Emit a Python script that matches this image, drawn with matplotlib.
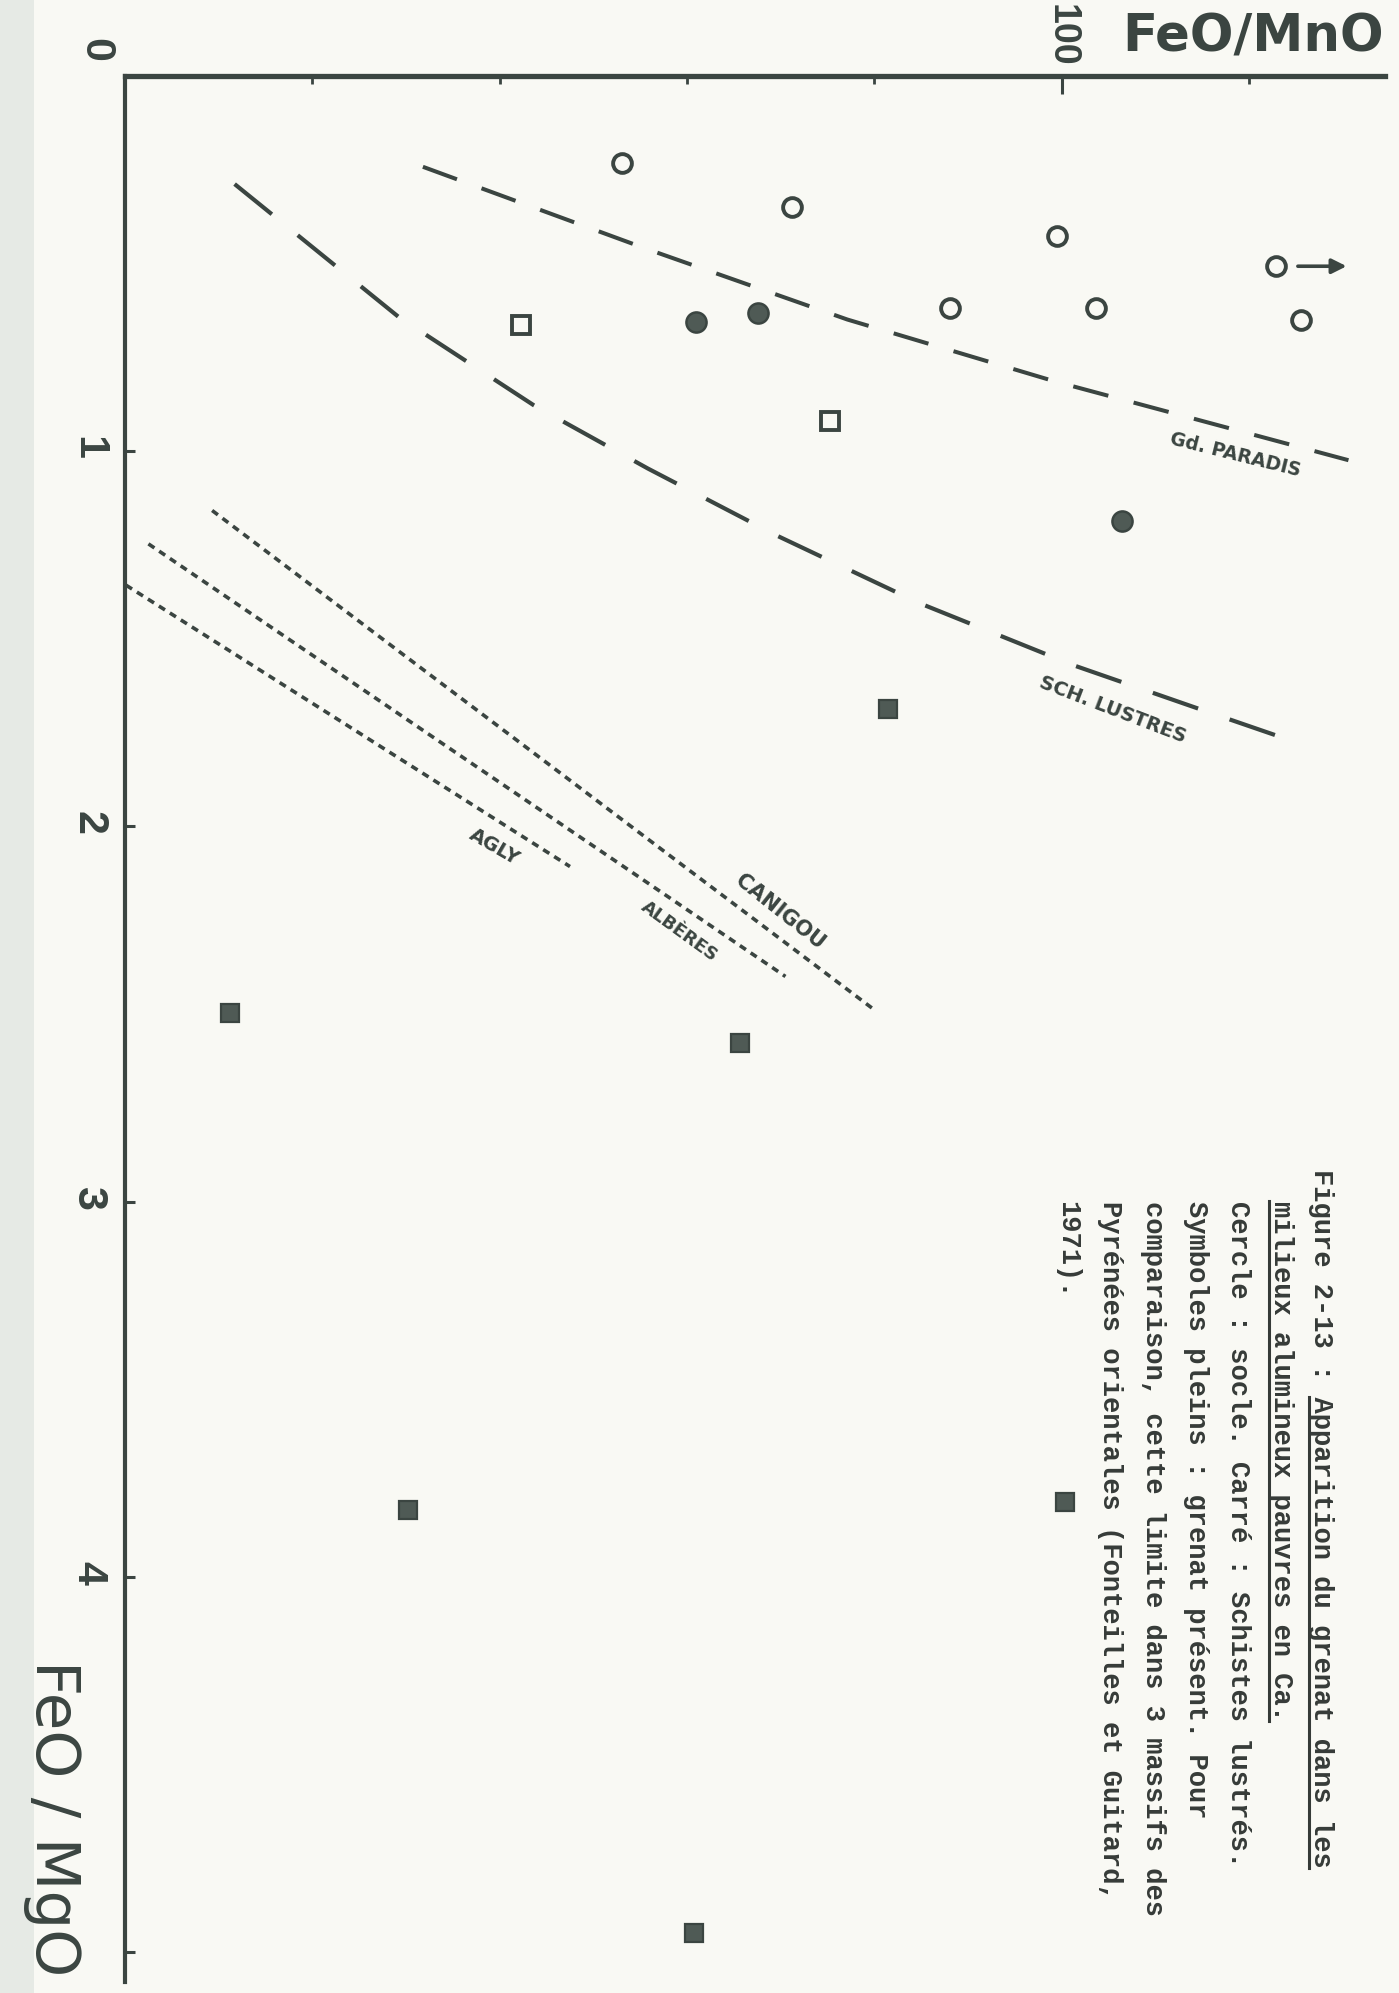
import matplotlib
matplotlib.use("Agg")
import matplotlib.pyplot as plt
from matplotlib.lines import Line2D
from matplotlib.patches import Rectangle

W, H = 1399, 1993
INK = "#3b4541"
FILL = "#4f5a55"
PAPER = "#f9f9f4"
CAPINK = "#363b38"

# ---------------- data (FeO/MnO, FeO/MgO) ----------------
socle_open_x = [53.0, 71.2, 99.5, 88.1, 103.7, 122.9, 125.5]
socle_open_y = [0.233, 0.350, 0.427, 0.618, 0.618, 0.507, 0.651]
socle_full_x = [60.9, 67.6, 106.4]
socle_full_y = [0.655, 0.633, 1.186]
sl_open_x = [42.3, 75.3]
sl_open_y = [0.664, 0.920]
sl_full_x = [81.5, 11.2, 65.6, 30.2, 100.3, 60.7]
sl_full_y = [1.688, 2.498, 2.576, 3.823, 3.800, 4.950]

arrow_x = [125.2, 130.4]
arrow_y = [0.507, 0.507]

gd_paradis_x = [31.8, 55.7, 77.1, 99.4, 130.6]
gd_paradis_y = [0.242, 0.461, 0.649, 0.815, 1.024]
sch_lustres_x = [11.7, 29.2, 43.6, 55.8, 69.5, 84.9, 101.3, 115.6, 123.4]
sch_lustres_y = [0.288, 0.642, 0.877, 1.046, 1.224, 1.406, 1.571, 1.695, 1.762]
canigou_x = [9.3, 80.1]
canigou_y = [1.158, 2.491]
alberes_x = [2.5, 70.5]
alberes_y = [1.247, 2.400]
agly_x = [0.1, 47.5]
agly_y = [1.357, 2.107]

x_ticks_minor = [20, 40, 60, 80, 120]
x_ticks_major = [100]
x_tick_labels = ["100"]
y_ticks = [1, 2, 3, 4, 5]
y_tick_labels = ["1", "2", "3", "4", ""]

caption_lines = [
    "Figure 2-13 : Apparition du grenat dans les",
    "milieux alumineux pauvres en Ca.",
    "Cercle : socle. Carré : Schistes lustrés.",
    "Symboles pleins : grenat présent. Pour",
    "comparaison, cette limite dans 3 massifs des",
    "Pyrénées orientales (Fonteilles et Guitard,",
    "1971).",
]
underline_chars = [(14, 43), (0, 32), None, None, None, None, None]

# ---------------- figure ----------------
fig = plt.figure(figsize=(W / 100, H / 100), dpi=100, facecolor=PAPER)
fig.patches.append(Rectangle((0, 0), 34 / W, 1, transform=fig.transFigure,
                             facecolor="#e6eae5", edgecolor="none", zorder=0))

ax = fig.add_axes([125 / W, 11 / H, 1260 / W, 1906 / H])
ax.patch.set_alpha(0)
ax.set_xlim(0, 134.5)
ax.set_ylim(5.08, 0)
for s in ["bottom", "right"]:
    ax.spines[s].set_visible(False)
ax.spines["top"].set_linewidth(3.8)
ax.spines["left"].set_linewidth(3.0)
ax.spines["top"].set_color(INK)
ax.spines["left"].set_color(INK)

BOLD = ["Liberation Sans", "DejaVu Sans"]

ax.xaxis.set_ticks_position("top")
ax.set_xticks(x_ticks_major, labels=x_tick_labels)
ax.set_xticks(x_ticks_minor, minor=True)
ax.tick_params(axis="x", which="major", direction="in", length=13, width=2.2,
               color=INK, pad=7, labelsize=27, labelcolor=INK, labelrotation=-90)
ax.tick_params(axis="x", which="minor", direction="in", length=6, width=2.0, color=INK)
ax.set_yticks(y_ticks, labels=y_tick_labels)
ax.tick_params(axis="y", which="major", direction="in", length=7, width=2.2,
               color=INK, pad=12, labelsize=31, labelcolor=INK, labelrotation=-90)
for lbl in ax.get_xticklabels() + ax.get_yticklabels():
    lbl.set_fontfamily(BOLD)
    lbl.set_fontweight("bold")

ax.text(-3.2, -0.069, "0", rotation=-90, ha="center", va="center", fontsize=31,
        fontfamily=BOLD, fontweight="bold", color=INK, clip_on=False)

# ---------------- limit lines ----------------
ax.plot(gd_paradis_x, gd_paradis_y, color=INK, lw=2.9, ls=(0, (9, 6.5)), clip_on=False)
ax.plot(sch_lustres_x, sch_lustres_y, color=INK, lw=3.0, ls=(0, (11.5, 8)), clip_on=False)
for xs, ys in [(canigou_x, canigou_y), (alberes_x, alberes_y), (agly_x, agly_y)]:
    ax.plot(xs, ys, color=INK, lw=2.6, ls=(0, (2.0, 1.6)), clip_on=False)

lab_kw = dict(fontfamily="DejaVu Sans", fontweight="bold", color=INK,
              ha="center", va="center", rotation_mode="anchor")
ax.text(118.5, 1.011, "Gd. PARADIS", rotation=-14, fontsize=13.5, **lab_kw)
ax.text(105.4, 1.688, "SCH. LUSTRES", rotation=-21, fontsize=14, **lab_kw)
ax.text(39.4, 2.056, "AGLY", rotation=-30, fontsize=14, **lab_kw)
ax.text(59.2, 2.280, "ALBÈRES", rotation=-36, fontsize=13, **lab_kw)
ax.text(69.9, 2.229, "CANIGOU", rotation=-38.5, fontsize=15, **lab_kw)

# ---------------- points ----------------
ax.plot(socle_open_x, socle_open_y, ls="none", marker="o", ms=13.5, mew=2.8,
        mfc="none", mec=INK, clip_on=False)
ax.plot(socle_full_x, socle_full_y, ls="none", marker="o", ms=14.5, mew=1.8,
        mfc=FILL, mec=INK, clip_on=False)
ax.plot(sl_open_x, sl_open_y, ls="none", marker="s", ms=12.5, mew=2.8,
        mfc="none", mec=INK, clip_on=False)
ax.plot(sl_full_x, sl_full_y, ls="none", marker="s", ms=13.5, mew=1.6,
        mfc=FILL, mec=INK, clip_on=False)
ax.annotate("", xy=(arrow_x[1], arrow_y[1]), xytext=(arrow_x[0], arrow_y[0]),
            arrowprops=dict(arrowstyle="-|>", lw=2.6, color=INK, mutation_scale=22,
                            shrinkA=0, shrinkB=0), annotation_clip=False)

# ---------------- axis titles ----------------
def ftext(xp, yp, s, **kw):
    return fig.text(xp / W, 1 - yp / H, s, **kw)

ftext(1253, 38, "FeO/MnO", fontsize=37, fontfamily="DejaVu Sans", fontweight="bold",
      color=INK, ha="center", va="center")
ftext(52, 1818, "FeO / MgO", fontsize=44, fontfamily="DejaVu Sans", color=INK,
      rotation=-90, rotation_mode="anchor", ha="center", va="center")

# ---------------- caption ----------------
cap_x = [1321, 1281, 1238, 1196, 1153, 1110, 1067]
cap_y0 = [1169, 1201, 1201, 1201, 1201, 1201, 1201]
MONO = ["Liberation Mono", "DejaVu Sans Mono"]
cap_texts = []
for s, xp, yp in zip(caption_lines, cap_x, cap_y0):
    t = ftext(xp, yp, s, fontsize=19.5, fontfamily=MONO, fontweight="bold",
              color=CAPINK, rotation=-90, rotation_mode="anchor", ha="left", va="center")
    cap_texts.append(t)

fig.canvas.draw()
renderer = fig.canvas.get_renderer()
for t, s, xp, uc in zip(cap_texts, caption_lines, cap_x, underline_chars):
    if uc is None:
        continue
    bb = t.get_window_extent(renderer)
    adv = (bb.y1 - bb.y0) / len(s)
    ya = bb.y1 - uc[0] * adv
    yb = bb.y1 - uc[1] * adv
    xu = xp - 12
    fig.add_artist(Line2D([xu / W, xu / W], [ya / H, yb / H], transform=fig.transFigure,
                          color=CAPINK, lw=2.2))

fig.savefig("out.png", dpi=100, facecolor=PAPER)
